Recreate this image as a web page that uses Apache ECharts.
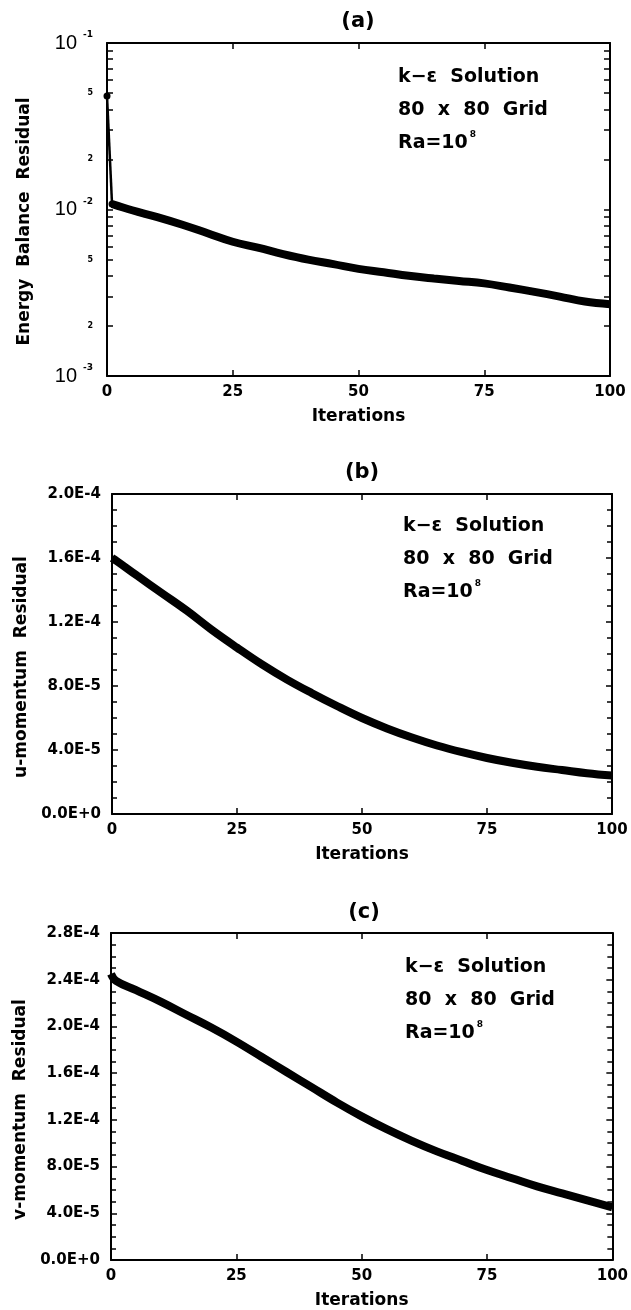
<!DOCTYPE html>
<html>
<head>
<meta charset="utf-8">
<title>k-epsilon residuals</title>
<script src="https://cdn.jsdelivr.net/npm/echarts@6/dist/echarts.min.js"></script>
<style>
  html, body { margin: 0; padding: 0; background: #fff; }
  #chart { width: 631px; height: 1310px; }
</style>
</head>
<body>
<div id="chart"></div>
<script>
// iterations where the curves were read
const iters = [0, 1, 5, 10, 15, 20, 25, 30, 35, 40, 45, 50, 55, 60, 65, 70, 75, 80, 85, 90, 95, 100];

// (a) energy balance residual (log axis)
const energyRes = [0.048, 0.0108, 0.0099, 0.0090, 0.0081, 0.0072, 0.0064, 0.0059, 0.0054, 0.0050, 0.0047,
  0.0044, 0.0042, 0.0040, 0.00385, 0.00372, 0.0036, 0.0034, 0.0032, 0.0030, 0.0028, 0.0027];
// (b) u-momentum residual
const uRes = [1.60e-4, 1.58e-4, 1.49e-4, 1.38e-4, 1.27e-4, 1.15e-4, 1.04e-4, 9.35e-5, 8.4e-5, 7.55e-5, 6.75e-5,
  6.0e-5, 5.35e-5, 4.78e-5, 4.28e-5, 3.86e-5, 3.5e-5, 3.2e-5, 2.95e-5, 2.75e-5, 2.55e-5, 2.4e-5];
// (c) v-momentum residual
const vRes = [2.45e-4, 2.39e-4, 2.31e-4, 2.21e-4, 2.10e-4, 1.99e-4, 1.87e-4, 1.74e-4, 1.61e-4, 1.48e-4, 1.35e-4,
  1.23e-4, 1.12e-4, 1.02e-4, 9.3e-5, 8.5e-5, 7.7e-5, 7.0e-5, 6.3e-5, 5.7e-5, 5.1e-5, 4.5e-5];

// log axis ticks / labels for (a)
const logTicks = [0.001, 0.002, 0.003, 0.004, 0.005, 0.006, 0.007, 0.008, 0.009,
  0.01, 0.02, 0.03, 0.04, 0.05, 0.06, 0.07, 0.08, 0.09, 0.1];
const logLabels = [0.001, 0.002, 0.005, 0.01, 0.02, 0.05, 0.1];

const FONT = 'DejaVu Sans';
const chart = echarts.init(document.getElementById('chart'));

const pairs = (xs, ys) => xs.map((x, i) => [x, ys[i]]);

// panel boxes
const grids = [
  { left: 107, top: 43, width: 503, height: 333 },
  { left: 112, top: 494, width: 500, height: 320 },
  { left: 111, top: 933, width: 506, height: 328 }
];

const lineBlack = { color: '#000', width: 2 };

function xAxes(gi) {
  const base = {
    gridIndex: gi, type: 'value', min: 0, max: 100, interval: 25,
    axisLine: { show: true, onZero: false, lineStyle: lineBlack },
    axisTick: { show: true, inside: true, length: 6, lineStyle: { color: '#000', width: 1.5 } },
    splitLine: { show: false }
  };
  return [
    Object.assign({}, base, {
      position: 'bottom',
      axisLabel: { color: '#000', fontFamily: FONT, fontWeight: 'bold', fontSize: 15, margin: 9 },
      name: 'Iterations', nameLocation: 'middle', nameGap: 32,
      nameTextStyle: { color: '#000', fontFamily: FONT, fontWeight: 'bold', fontSize: 17 }
    }),
    Object.assign({}, base, { position: 'top', axisLabel: { show: false } })
  ];
}

function linYAxes(gi, max, name, gap) {
  const base = {
    gridIndex: gi, type: 'value', min: 0, max: max, interval: 4e-5,
    axisLine: { show: true, onZero: false, lineStyle: lineBlack },
    axisTick: { show: true, inside: true, length: 6, lineStyle: { color: '#000', width: 1.5 } },
    minorTick: { show: true, splitNumber: 4, length: 5, lineStyle: { color: '#000', width: 1.5 } },
    splitLine: { show: false }
  };
  return [
    Object.assign({}, base, {
      position: 'left',
      axisLabel: {
        color: '#000', fontFamily: FONT, fontWeight: 'bold', fontSize: 15, margin: 11,
        formatter: v => v.toExponential(1).toUpperCase()
      },
      name: name, nameLocation: 'middle', nameGap: gap,
      nameTextStyle: { color: '#000', fontFamily: FONT, fontWeight: 'bold', fontSize: 17, padding: [0, 26, 0, 0] }
    }),
    Object.assign({}, base, { position: 'right', axisLabel: { show: false } })
  ];
}

function logLabel(v) {
  const e = Math.floor(Math.log10(v) + 1e-9);
  const m = Math.round(v / Math.pow(10, e));
  if (m === 1) return '{d|10}{e|' + e + '}';
  return '{m|' + m + '}';
}

const logBase = {
  gridIndex: 0, type: 'log', logBase: 10, min: 0.001, max: 0.1,
  axisLine: { show: true, onZero: false, lineStyle: lineBlack },
  axisTick: { show: true, inside: true, length: 6, customValues: logTicks, lineStyle: { color: '#000', width: 1.5 } },
  minorTick: { show: false },
  splitLine: { show: false }
};

const yAxisList = [
  Object.assign({}, logBase, {
    position: 'left',
    axisLabel: {
      customValues: logLabels, margin: 14, color: '#000',
      formatter: logLabel,
      rich: {
        d: { fontFamily: 'Liberation Sans', fontSize: 20, color: '#000' },
        e: { fontFamily: FONT, fontWeight: 'bold', fontSize: 9, color: '#000', padding: [0, 0, 16, 6] },
        m: { fontFamily: FONT, fontWeight: 'bold', fontSize: 8, color: '#000' }
      }
    },
    name: 'Energy  Balance  Residual', nameLocation: 'middle', nameGap: 74,
    nameTextStyle: { color: '#000', fontFamily: FONT, fontWeight: 'bold', fontSize: 17, padding: [0, 24, 0, 0] }
  }),
  Object.assign({}, logBase, { position: 'right', axisLabel: { show: false } })
].concat(linYAxes(1, 2e-4, 'u-momentum  Residual', 80), linYAxes(2, 2.8e-4, 'v-momentum  Residual', 74));

const xAxisList = [].concat(xAxes(0), xAxes(1), xAxes(2));

const thick = { color: '#000', width: 8 };

const series = [
  {
    // first step drop in (a)
    type: 'line', xAxisIndex: 0, yAxisIndex: 0,
    data: pairs(iters.slice(0, 2), energyRes.slice(0, 2)),
    symbol: 'circle', symbolSize: 7, itemStyle: { color: '#000' },
    lineStyle: { color: '#000', width: 2.5 }, silent: true
  },
  {
    type: 'line', xAxisIndex: 0, yAxisIndex: 0,
    data: pairs(iters.slice(1), energyRes.slice(1)),
    smooth: 0.4, symbol: 'none', lineStyle: thick
  },
  {
    type: 'line', xAxisIndex: 2, yAxisIndex: 2,
    data: pairs(iters, uRes),
    smooth: 0.4, symbol: 'none', lineStyle: thick
  },
  {
    type: 'line', xAxisIndex: 4, yAxisIndex: 4,
    data: pairs(iters, vRes),
    smooth: 0.4, symbol: 'none', lineStyle: thick
  }
];

// panel letters and annotation text
const panelTitles = [['(a)', 358, 22], ['(b)', 362, 473], ['(c)', 364, 913]];
const notes = [[398, 77], [403, 526], [405, 967]];

const graphic = [];
panelTitles.forEach(t => {
  graphic.push({
    type: 'text', x: t[1], y: t[2],
    style: { text: t[0], font: 'bold 21px "' + FONT + '"', fill: '#000', align: 'center', verticalAlign: 'middle' }
  });
});
notes.forEach(n => {
  const lines = ['k\u2212\u03b5  Solution', '80  x  80  Grid', '{n|Ra=10}{s|8}'];
  lines.forEach((txt, i) => {
    graphic.push({
      type: 'text', x: n[0], y: n[1] + i * 33,
      style: {
        text: txt, font: 'bold 19px "' + FONT + '"', fill: '#000', align: 'left', verticalAlign: 'middle',
        rich: {
          n: { fontFamily: FONT, fontWeight: 'bold', fontSize: 19, fill: '#000' },
          s: { fontFamily: FONT, fontWeight: 'bold', fontSize: 9, fill: '#000', padding: [0, 0, 16, 2] }
        }
      }
    });
  });
});

chart.setOption({
  backgroundColor: '#fff',
  animation: false,
  grid: grids,
  xAxis: xAxisList,
  yAxis: yAxisList,
  series: series,
  graphic: graphic
});
</script>
</body>
</html>
